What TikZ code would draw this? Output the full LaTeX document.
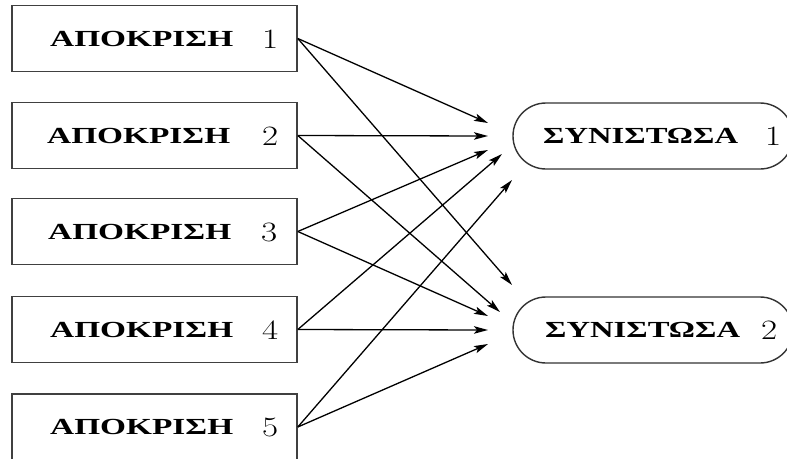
\documentclass[tikz,border=0pt]{standalone}
\usepackage{fontspec}
\usetikzlibrary{arrows.meta,shapes.misc}
\newfontfamily\grk[FakeStretch=1.45]{Liberation Serif}
\newfontfamily\grkw[FakeStretch=1.42]{Liberation Serif}
\newfontfamily\dig[FakeStretch=1.25]{Latin Modern Roman}
\begin{document}
\begin{tikzpicture}[x=1pt,y=-1pt,
  box/.style={draw=black!75,line width=1.6pt,minimum width=285pt,minimum height=66pt,inner sep=0pt},
  comp/.style={draw=black!80,line width=1.4pt,rounded rectangle,minimum width=280pt,minimum height=66pt,inner sep=0pt},
  word/.style={anchor=west,inner sep=0pt,font=\grk\bfseries\fontsize{23}{26}\selectfont},
  cword/.style={anchor=west,inner sep=0pt,font=\grkw\bfseries\fontsize{23}{26}\selectfont},
  num/.style={anchor=west,inner sep=0pt,font=\dig\fontsize{28}{30}\selectfont},
  arr/.style={line width=1.3pt,-{Stealth[length=14pt,width=7.5pt,inset=3pt]}}]
\useasboundingbox (0,0) rectangle (787,458);
% response boxes
\node[box] (r1) at (154.5,38.5) {};
\node[box] (r2) at (154.5,135.5) {};
\node[box] (r3) at (154.5,231.5) {};
\node[box] (r4) at (154.5,329.5) {};
\node[box] (r5) at (154.5,427) {};
\node[word] (w1) at (50,39) {ΑΠΟΚΡΙΣΗ};
\node[num]  (n1) at (262,39) {1};
\node[word] (w2) at (47,136) {ΑΠΟΚΡΙΣΗ};
\node[num]  (n2) at (262,136) {2};
\node[word] (w3) at (48,232) {ΑΠΟΚΡΙΣΗ};
\node[num]  (n3) at (261,232) {3};
\node[word] (w4) at (50,330) {ΑΠΟΚΡΙΣΗ};
\node[num]  (n4) at (262,330) {4};
\node[word] (w5) at (50,427) {ΑΠΟΚΡΙΣΗ};
\node[num]  (n5) at (262,427) {5};
% components
\node[comp] (s1) at (653,136) {};
\node[comp] (s2) at (653,330) {};
\node[cword] (v1) at (543,136) {ΣΥΝΙΣΤΩΣΑ};
\node[num]  (m1) at (765,136) {1};
\node[cword] (v2) at (545,330) {ΣΥΝΙΣΤΩΣΑ};
\node[num]  (m2) at (761,330) {2};
% arrow end points
\coordinate (a1) at (488,123);
\coordinate (a2) at (488,136);
\coordinate (a3) at (488,150);
\coordinate (a4) at (502,154);
\coordinate (a5) at (512,180);
\coordinate (b1) at (512,285);
\coordinate (b2) at (500,312);
\coordinate (b3) at (488,316);
\coordinate (b4) at (488,330);
\coordinate (b5) at (488,344);
\draw[arr] (r1.east) -- (a1);
\draw[arr] (r2.east) -- (a2);
\draw[arr] (r3.east) -- (a3);
\draw[arr] (r4.east) -- (a4);
\draw[arr] (r5.east) -- (a5);
\draw[arr] (r1.east) -- (b1);
\draw[arr] (r2.east) -- (b2);
\draw[arr] (r3.east) -- (b3);
\draw[arr] (r4.east) -- (b4);
\draw[arr] (r5.east) -- (b5);
\end{tikzpicture}
\end{document}
